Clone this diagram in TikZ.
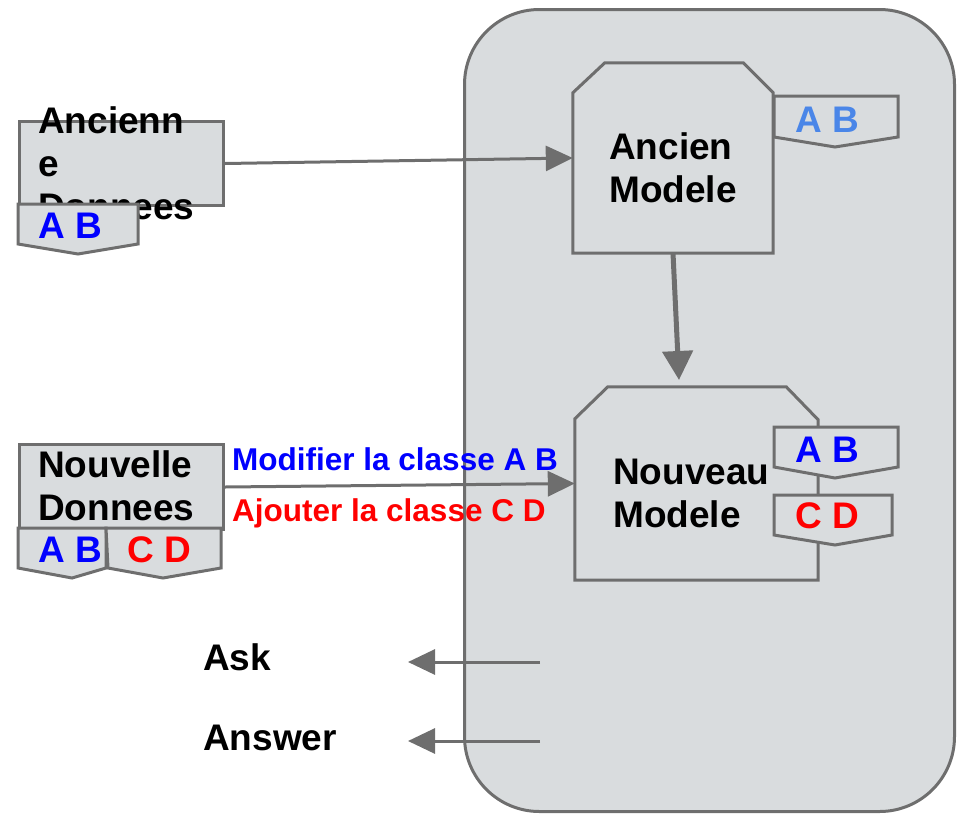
\documentclass[tikz,border=0pt]{standalone}
\usepackage{fontspec}
\setmainfont{Liberation Sans}
\usetikzlibrary{arrows.meta,calc}
\definecolor{boxfill}{RGB}{217,220,222}
\definecolor{edge}{RGB}{110,110,110}
\definecolor{lblue}{RGB}{74,134,232}
\begin{document}
\begin{tikzpicture}[x=1pt,y=-1pt,
  big/.style={font=\fontsize{37}{43}\selectfont\bfseries, inner sep=0pt, anchor=base west, align=left},
  small/.style={font=\fontsize{31.5}{36}\selectfont\bfseries, inner sep=0pt, anchor=base west},
  shp/.style={draw=edge, fill=boxfill, line width=3pt},
  arr/.style={draw=edge, line width=3pt, -{Triangle[length=27pt,width=25pt]}},
  arrbig/.style={draw=edge, line width=5pt, -{Triangle[length=29pt,width=30pt]}}
]
\useasboundingbox (0,0) rectangle (957,814);
% system box
\node[shp, rounded corners=75pt, minimum width=490pt, minimum height=802pt, inner sep=0pt, anchor=north west] (sys) at (463,8) {};

% Ancienne Donnees
\node[shp, minimum width=204pt, minimum height=84pt, inner sep=0pt, anchor=north west] (ad) at (18,120) {};
\node[big] (adt) at (38,219) {Ancienn\\e\\Donnees};
\draw[shp] (18,204) -- (138,204) -- (138,244) -- (78,254) -- (18,244) -- cycle;
\node[big, text=blue] (adab) at (38,238) {A B};

% Ancien Modele
\node[minimum width=200pt, minimum height=190pt, inner sep=0pt] (am) at (673,158) {};
\draw[shp] (am.south west) -- ($(am.north west)+(0,30)$) -- ($(am.north west)+(32,0)$)
  -- ($(am.north east)+(-30,0)$) -- ($(am.north east)+(0,30)$) -- (am.south east) -- cycle;
\node[big] (amt) at (609,202) {Ancien\\Modele};
\draw[shp] (774,96) -- (898,96) -- (898,137) -- (835,147) -- (774,137) -- cycle;
\node[big, text=lblue] (amab) at (795,132) {A B};

% Nouveau Modele
\node[minimum width=243pt, minimum height=193pt, inner sep=0pt] (nm) at (696.5,483.5) {};
\draw[shp] (nm.south west) -- ($(nm.north west)+(0,32)$) -- ($(nm.north west)+(33,0)$)
  -- ($(nm.north east)+(-32,0)$) -- ($(nm.north east)+(0,33)$) -- (nm.south east) -- cycle;
\node[big] (nmt) at (613,527) {Nouveau\\Modele};
\draw[shp] (774,427) -- (898,427) -- (898,467) -- (835,478) -- (774,467) -- cycle;
\node[big, text=blue] (nmab) at (795,462) {A B};
\draw[shp] (774,495) -- (892,495) -- (892,535) -- (835,545) -- (774,535) -- cycle;
\node[big, text=red] (nmcd) at (795,528) {C D};

% Nouvelle Donnees
\node[shp, minimum width=204pt, minimum height=85pt, inner sep=0pt, anchor=north west] (nd) at (18,443) {};
\node[big] (ndt) at (38,520) {Nouvelle\\Donnees};
\draw[shp] (18,528) -- (106,528) -- (106,568) -- (72,578) -- (18,568) -- cycle;
\draw[shp] (106,528) -- (221,528) -- (221,568) -- (163,578) -- (108,568) -- cycle;
\node[big, text=blue] (ndab) at (38,562) {A B};
\node[big, text=red] (ndcd) at (127,562) {C D};

% connectors
\draw[arr] (ad.east) -- (am.west);
\coordinate (t1) at (679,380);
\draw[arrbig] ($(am.south)+(0,0)$) -- (t1);
\draw[arr] (nd.east) -- (nm.west);
\node[small, text=blue] (lab1) at (232,470) {Modifier la classe A B};
\node[small, text=red] (lab2) at (232,521) {Ajouter la classe C D};

% Ask / Answer
\node[big] (ask) at (203,670) {Ask};
\node[big] (ans) at (203,750) {Answer};
\coordinate (a1) at (540,662);
\coordinate (a2) at (408,662);
\coordinate (b1) at (540,741);
\coordinate (b2) at (408,741);
\draw[arr] (a1) -- (a2);
\draw[arr] (b1) -- (b2);
\end{tikzpicture}
\end{document}
